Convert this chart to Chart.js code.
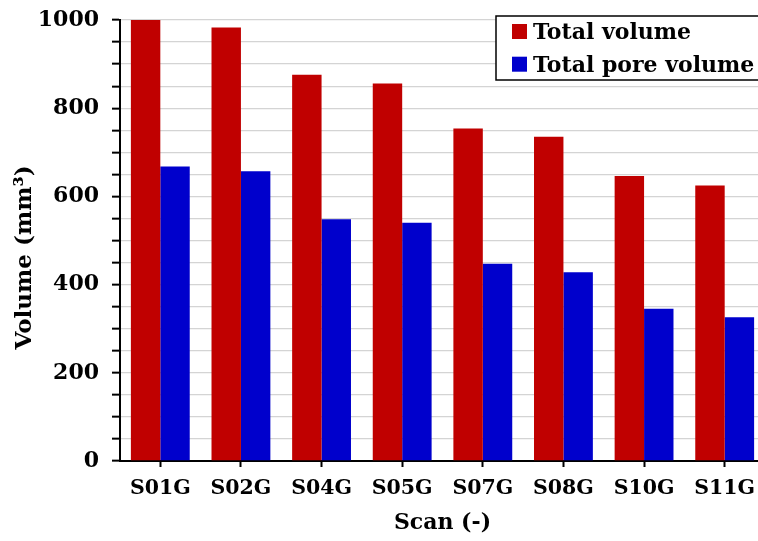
<!DOCTYPE html>
<html><head><meta charset="utf-8">
<script src="https://cdn.jsdelivr.net/npm/chart.js@4"></script>
<style>
html,body{margin:0;padding:0;overflow:hidden;background:#fff;width:758px;height:541px}
#wrap{position:absolute;left:0;top:0;width:766px;height:541px}
</style>
</head><body><div id="wrap"><canvas id="c" width="766" height="541"></canvas></div>
<script>
const categories = ['S01G','S02G','S04G','S05G','S07G','S08G','S10G','S11G'];
const totalVolume = [1000, 983, 876, 856, 754, 735, 646, 625];
const poreVolume = [668, 657, 548, 540, 447, 428, 345, 326];
const seriesNames = ['Total volume', 'Total pore volume'];
const yMajorTicks = [0, 200, 400, 600, 800, 1000];
const xTitle = 'Scan (-)';
const yTitle = 'Volume (mm³)';

const FONT = '"DejaVu Serif", serif';

const boxLegend = {
  id: 'boxLegend',
  afterDraw(chart) {
    const ctx = chart.ctx;
    const x0 = 496, y0 = 16, w = 300, h = 64;
    ctx.save();
    ctx.fillStyle = '#fff';
    ctx.fillRect(x0, y0, w, h);
    ctx.strokeStyle = '#000';
    ctx.lineWidth = 1.5;
    ctx.strokeRect(x0, y0, w, h);
    ctx.font = 'bold 22px ' + FONT;
    ctx.textBaseline = 'alphabetic';
    chart.data.datasets.forEach((ds, i) => {
      const base = y0 + 23 + i * 32.7;
      ctx.fillStyle = ds.backgroundColor;
      ctx.fillRect(512, base - 15, 15, 15);
      ctx.fillStyle = '#000';
      ctx.fillText(ds.label, 533, base);
    });
    ctx.restore();
  }
};

const yTitlePlugin = {
  id: 'yTitlePlugin',
  afterDraw(chart) {
    const ctx = chart.ctx, ca = chart.chartArea;
    ctx.save();
    ctx.translate(25, (ca.top + ca.bottom) / 2 + 17);
    ctx.rotate(-Math.PI / 2);
    ctx.font = 'bold 23px ' + FONT;
    ctx.fillStyle = '#000';
    ctx.textAlign = 'center';
    ctx.textBaseline = 'middle';
    ctx.fillText(yTitle, 0, 0);
    ctx.restore();
  }
};

new Chart(document.getElementById('c'), {
  type: 'bar',
  data: {
    labels: categories,
    datasets: [
      { label: seriesNames[0], data: totalVolume, backgroundColor: '#c00000', borderWidth: 0 },
      { label: seriesNames[1], data: poreVolume, backgroundColor: '#0000cc', borderWidth: 0 }
    ]
  },
  options: {
    responsive: false,
    animation: false,
    devicePixelRatio: 1,
    layout: { padding: { top: 20, right: 1, left: 0, bottom: 0 } },
    datasets: { bar: { categoryPercentage: 0.73, barPercentage: 1.0 } },
    plugins: { legend: { display: false }, tooltip: { enabled: false } },
    scales: {
      x: {
        afterFit: (s) => { s.height = 80; s.paddingLeft = 0; s.paddingRight = 0; },
        grid: { drawOnChartArea: false, offset: false, tickLength: 6, tickColor: '#000', tickWidth: 2 },
        border: { color: '#000', width: 2 },
        ticks: { color: '#000', font: { family: FONT, weight: 'bold', size: 20.5 }, padding: 9, maxRotation: 0 },
        title: { display: true, text: xTitle, color: '#000', font: { family: FONT, weight: 'bold', size: 22 }, padding: { top: 0, bottom: 5 } }
      },
      y: {
        min: 0, max: 1000,
        afterFit: (s) => { s.width = 120; s.paddingTop = 0; s.paddingBottom = 0; },
        grid: { color: '#d4d4d4', lineWidth: 1.3, tickLength: 8, tickColor: '#000', tickWidth: 2 },
        border: { color: '#000', width: 2 },
        ticks: {
          stepSize: 50, autoSkip: false, color: '#000', padding: 13,
          font: { family: FONT, weight: 'bold', size: 22 },
          callback: (v) => yMajorTicks.includes(v) ? String(v) : ''
        },
        title: { display: false }
      }
    }
  },
  plugins: [boxLegend, yTitlePlugin]
});
</script>
</body></html>
